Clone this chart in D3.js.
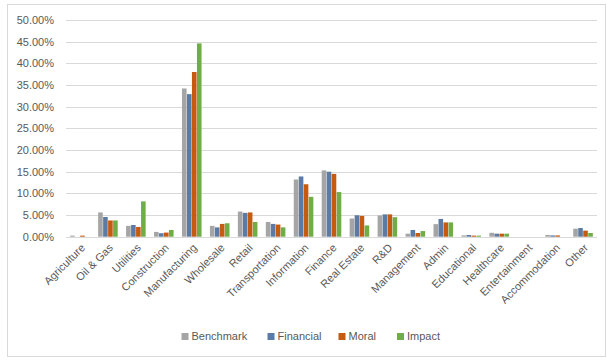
<!DOCTYPE html>
<html>
<head>
<meta charset="utf-8">
<script src="https://cdn.jsdelivr.net/npm/d3@7/dist/d3.min.js"></script>
<style>
  html, body { margin: 0; padding: 0; background: #fff; }
  svg { display: block; font-family: "Liberation Sans", "DejaVu Sans", sans-serif; }
</style>
</head>
<body>
<svg id="chart" width="607" height="360"></svg>
<script>
// Industry categories on the x axis
const categories = ["Agriculture", "Oil & Gas", "Utilities", "Construction", "Manufacturing",
  "Wholesale", "Retail", "Transportation", "Information", "Finance", "Real Estate", "R&D",
  "Management", "Admin", "Educational", "Healthcare", "Entertainment", "Accommodation", "Other"];

// Share of each portfolio per industry (%)
const benchmark = [0.25, 5.6, 2.5, 1.1, 34.2, 2.5, 5.8, 3.4, 13.2, 15.3, 4.2, 4.9, 0.7, 2.9, 0.3, 0.9, 0, 0.4, 1.85];
const financial = [0, 4.55, 2.7, 0.8, 32.9, 2.15, 5.5, 2.95, 13.9, 15.0, 4.95, 5.15, 1.55, 4.1, 0.4, 0.7, 0, 0.3, 2.0];
const moral     = [0.25, 3.75, 2.25, 0.95, 38.0, 2.95, 5.6, 2.8, 12.1, 14.5, 4.8, 5.15, 0.85, 3.3, 0.25, 0.7, 0, 0.3, 1.4];
const impact    = [0, 3.75, 8.15, 1.55, 44.6, 3.1, 3.4, 2.15, 9.2, 10.3, 2.6, 4.5, 1.3, 3.3, 0.25, 0.7, 0, 0, 0.85];

const seriesNames = ["Benchmark", "Financial", "Moral", "Impact"];
const seriesColors = ["#A5A5A5", "#5B7BA4", "#C55A11", "#70AD47"];
const yTicks = [0, 5, 10, 15, 20, 25, 30, 35, 40, 45, 50];

const series = [benchmark, financial, moral, impact];

const svg = d3.select("#chart");
const W = 607, H = 360;
const plot = { left: 66, right: 597, top: 20, bottom: 236.7 };

// Outer chart frame
svg.append("rect")
  .attr("x", 7.5).attr("y", 4.5)
  .attr("width", 598).attr("height", 352)
  .attr("fill", "#fff").attr("stroke", "#D9D9D9").attr("stroke-width", 1);

const x = d3.scaleBand().domain(categories).range([plot.left, plot.right]).paddingInner(0.3).paddingOuter(0.15);
const x1 = d3.scaleBand().domain(seriesNames).range([0, x.bandwidth()]).paddingInner(0.08);
const y = d3.scaleLinear().domain([0, 50]).range([plot.bottom, plot.top]);

// Horizontal gridlines
svg.append("g")
  .selectAll("line")
  .data(yTicks.filter(t => t > 0))
  .join("line")
  .attr("x1", plot.left).attr("x2", plot.right)
  .attr("y1", d => Math.round(y(d)) + 0.5).attr("y2", d => Math.round(y(d)) + 0.5)
  .attr("stroke", "#D9D9D9").attr("stroke-width", 1);

// Y axis labels
const yAxis = d3.axisLeft(y).tickValues(yTicks).tickFormat(d => d.toFixed(2) + "%").tickSize(0).tickPadding(0);
const gy = svg.append("g").attr("transform", `translate(${plot.left - 12},0)`).call(yAxis);
gy.select(".domain").remove();
gy.selectAll("text").attr("fill", "#595959").attr("font-size", "11px")
  .attr("font-family", "'Liberation Sans', sans-serif");

// Bars
const groups = svg.append("g")
  .selectAll("g")
  .data(categories)
  .join("g")
  .attr("transform", d => `translate(${x(d)},0)`);

groups.selectAll("rect")
  .data((c, i) => seriesNames.map((s, k) => ({ s, k, v: series[k][i] })))
  .join("rect")
  .attr("x", d => x1(d.s))
  .attr("width", x1.bandwidth())
  .attr("y", d => y(d.v))
  .attr("height", d => y(0) - y(d.v))
  .attr("fill", d => seriesColors[d.k]);

// X axis baseline
svg.append("line")
  .attr("x1", plot.left).attr("x2", plot.right)
  .attr("y1", Math.round(y(0)) + 0.5).attr("y2", Math.round(y(0)) + 0.5)
  .attr("stroke", "#D9D9D9").attr("stroke-width", 1);

// Rotated category labels
const xAxis = d3.axisBottom(x).tickSize(0).tickPadding(0);
const gx = svg.append("g").attr("transform", `translate(0,${plot.bottom})`).call(xAxis);
gx.select(".domain").remove();
gx.selectAll("text")
  .attr("fill", "#595959").attr("font-size", "11px")
  .attr("font-family", "'Liberation Sans', sans-serif")
  .attr("text-anchor", "end")
  .attr("dy", "0.35em")
  .attr("transform", "translate(3,9) rotate(-45)");

// Legend
const legendX = [181.5, 267.5, 338.5, 397];
const legend = svg.append("g").selectAll("g").data(seriesNames).join("g")
  .attr("transform", (d, i) => `translate(${legendX[i]},336.5)`);
legend.append("rect").attr("x", 0).attr("y", -3.5).attr("width", 7).attr("height", 7)
  .attr("fill", (d, i) => seriesColors[i]);
legend.append("text").attr("x", 10).attr("y", 0).attr("dy", "0.35em")
  .attr("fill", "#595959").attr("font-size", "11px")
  .text(d => d);
</script>
</body>
</html>
